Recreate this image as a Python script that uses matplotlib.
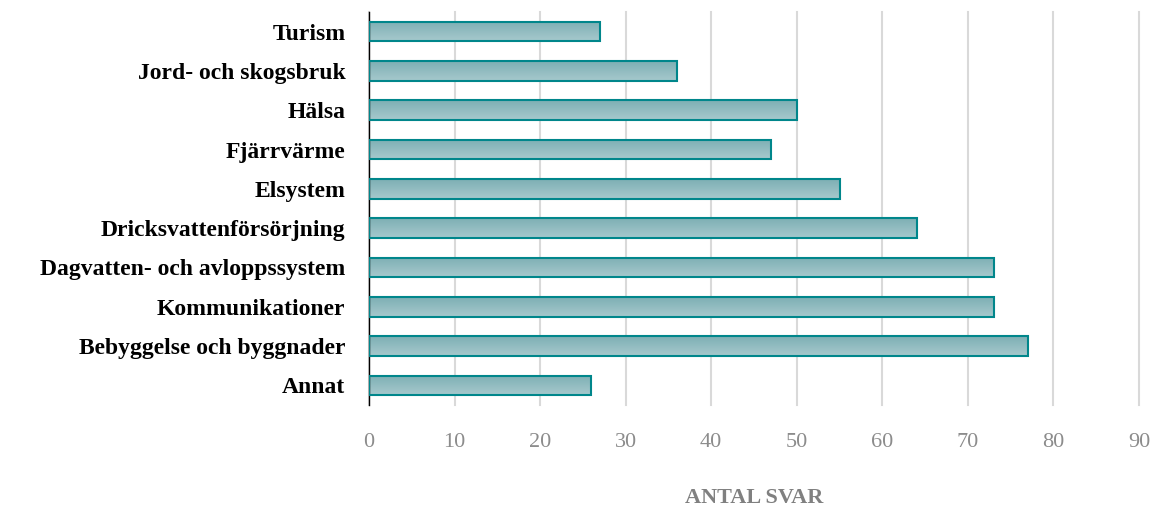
import numpy as np
import matplotlib.pyplot as plt
from matplotlib.colors import LinearSegmentedColormap

categories = ['Annat', 'Bebyggelse och byggnader', 'Kommunikationer',
              'Dagvatten- och avloppssystem', 'Dricksvattenförsörjning',
              'Elsystem', 'Fjärrvärme', 'Hälsa', 'Jord- och skogsbruk', 'Turism']
values = [26, 77, 73, 73, 64, 55, 47, 50, 36, 27]
xticks = [0, 10, 20, 30, 40, 50, 60, 70, 80, 90]

plt.rcParams['font.family'] = ['Liberation Serif', 'DejaVu Serif']

fig = plt.figure(figsize=(11.59, 5.08), dpi=100)
ax = fig.add_axes([0.3184, 0.2028, 0.6643, 0.7736])

y = np.arange(len(categories))
bars = ax.barh(y, values, height=0.5, color='none', edgecolor='#00868b',
               linewidth=1.5, zorder=3)

# vertical gradient inside each bar
cmap = LinearSegmentedColormap.from_list('grad', ['#a6c9cd', '#7eafb4'])
grad = np.linspace(0, 1, 100).reshape(-1, 1)
for b in bars:
    x0, y0 = b.get_x(), b.get_y()
    w, h = b.get_width(), b.get_height()
    im = ax.imshow(grad, cmap=cmap, aspect='auto', origin='upper',
                   extent=[x0, x0 + w, y0 + h, y0], zorder=2)
    im.set_clip_path(b)

ax.set_xlim(0, 90)
ax.set_ylim(-0.5, len(categories) - 0.5)
ax.set_xticks(xticks)
ax.set_yticks(y)
ax.set_yticklabels(categories, fontsize=17, fontweight='bold')
ax.tick_params(axis='x', length=0, pad=20, labelsize=16, labelcolor='#8c8c8c')
ax.tick_params(axis='y', length=0, pad=17)
ax.grid(axis='x', color='#d9d9d9', linewidth=1.5, zorder=0)
for gl in ax.get_xgridlines():
    gl.set_clip_on(False)
ax.set_axisbelow(True)
for s in ['top', 'right', 'bottom']:
    ax.spines[s].set_visible(False)
ax.spines['left'].set_color('#000000')
ax.spines['left'].set_linewidth(1)
ax.set_xlabel('ANTAL SVAR', fontsize=16, fontweight='bold', color='#808080',
              labelpad=26)

plt.savefig('out.png', dpi=100)
